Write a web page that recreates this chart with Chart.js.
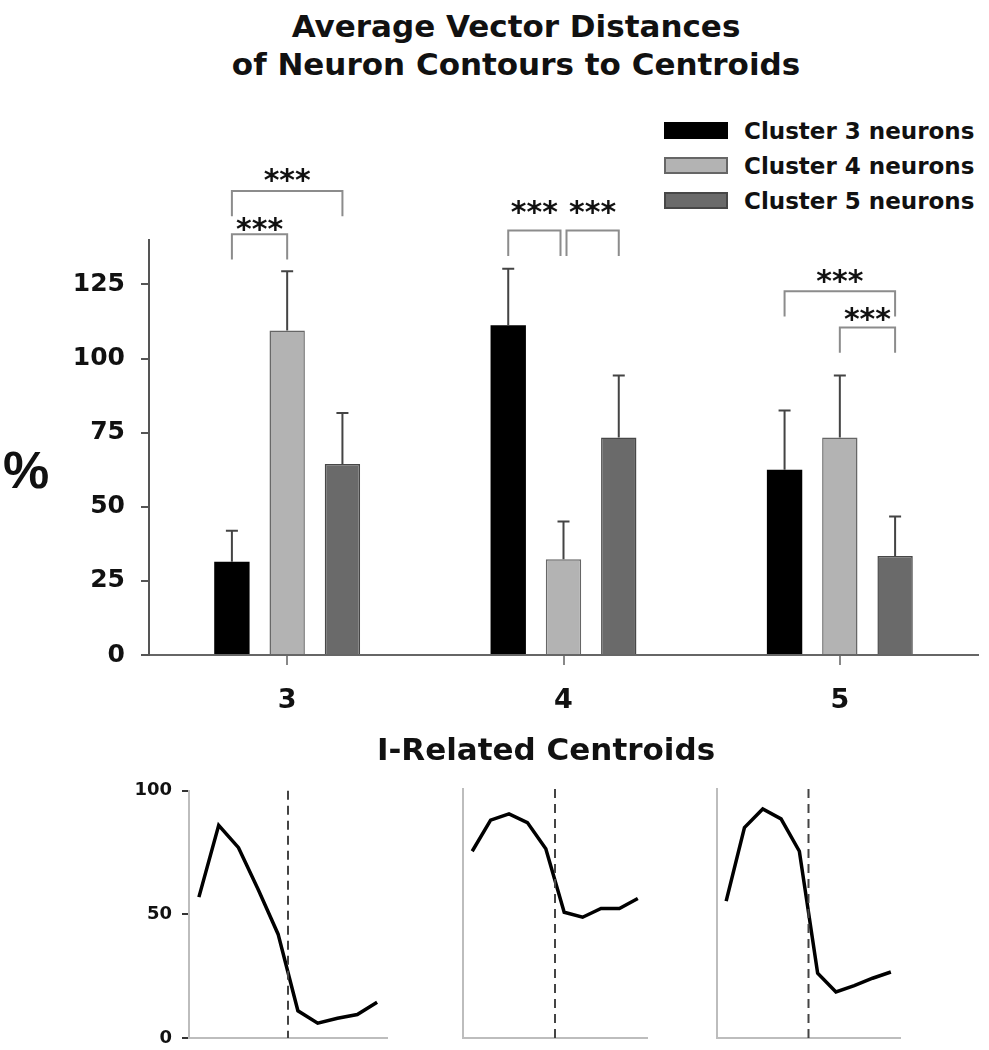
<!DOCTYPE html>
<html>
<head>
<meta charset="utf-8">
<script src="https://cdn.jsdelivr.net/npm/chart.js@4.4.1/dist/chart.umd.min.js"></script>
<style>
  body { margin: 0; background: #fff; font-family: 'DejaVu Sans', 'Liberation Sans', Arial, sans-serif; }
  #page { position: relative; width: 989px; height: 1050px; overflow: hidden; }
  .abs { position: absolute; }
  .title { left: 166px; width: 700px; top: 7px; text-align: center; font-weight: bold; font-size: 31px; line-height: 38px; color: #111; }
  .pct { left: 3px; top: 440px; font-family: 'Liberation Sans', Arial, sans-serif; font-weight: bold; font-size: 52px; line-height: 60px; color: #111; }
  .sub { left: 296px; width: 500px; top: 734px; text-align: center; font-weight: bold; font-size: 31px; line-height: 30px; color: #111; }
  #legend { left: 664px; top: 113px; }
  .row { display: flex; align-items: center; height: 35px; }
  .box { width: 60px; height: 13px; margin-right: 16px; }
  .lab { font-weight: bold; font-size: 23px; color: #111; white-space: nowrap; }
</style>
</head>
<body>
<div id="page">
  <div class="abs title">Average Vector Distances<br>of Neuron Contours to Centroids</div>
  <div id="legend" class="abs"></div>
  <div class="abs pct">%</div>
  <canvas id="bars" class="abs" width="989" height="640" style="left:0;top:100px"></canvas>
  <div class="abs sub">I-Related Centroids</div>
  <canvas id="cent3" class="abs" width="300" height="290" style="left:100px;top:770px"></canvas>
  <canvas id="cent4" class="abs" width="250" height="290" style="left:413px;top:770px"></canvas>
  <canvas id="cent5" class="abs" width="250" height="290" style="left:667px;top:770px"></canvas>
</div>
<script>
const categories = ['3', '4', '5'];
const seriesNames = ['Cluster 3 neurons', 'Cluster 4 neurons', 'Cluster 5 neurons'];
const cluster3 = [31.5, 111.2, 62.5];
const cluster4 = [109.5, 32.3, 73.4];
const cluster5 = [64.4, 73.4, 33.4];
const cluster3Err = [10.4, 19.1, 20.0];
const cluster4Err = [20.0, 12.7, 20.9];
const cluster5Err = [17.2, 20.9, 13.3];
const yTicks = [0, 25, 50, 75, 100, 125];

// significance brackets (category, bar a, bar b, heights in % units)
const sigCat = [0, 0, 1, 1, 2, 2];
const sigFrom = [0, 0, 0, 1, 0, 1];
const sigTo = [2, 1, 1, 2, 2, 2];
const sigTop = [156.5, 141.9, 143.2, 143.2, 122.7, 110.5];
const sigLeg = [148.0, 133.4, 134.6, 134.6, 114.2, 102.0];
const sigTextY = [161.8, 145.3, 150.9, 150.9, 127.8, 114.9];
const sigLabel = '***';

// centroid traces, 10 bins; event marker between bin 5 and 6
const bins = [0, 1, 2, 3, 4, 5, 6, 7, 8, 9];
const centroid3 = [57, 86, 77, 60, 42, 11, 6, 8, 9.5, 14.5];
const centroid4 = [75, 87.5, 90, 86.5, 76, 50.5, 48.5, 52, 52, 56];
const centroid5 = [55, 84.5, 92, 88, 75, 26, 18.5, 21, 24, 26.5];
const centroidTicks = [0, 50, 100];
const eventBin = 4.5;

const FONT = "'DejaVu Sans', 'Liberation Sans', Arial, sans-serif";
const fills = ['#000000', '#b3b3b3', '#6a6a6a'];
const edges = ['#000000', '#666666', '#474747'];
const errs = [cluster3Err, cluster4Err, cluster5Err];

// html legend
const legend = document.getElementById('legend');
seriesNames.forEach((name, i) => {
  const row = document.createElement('div');
  row.className = 'row';
  row.innerHTML = `<div class="box" style="background:${fills[i]};border:2px solid ${edges[i]}"></div><div class="lab">${name}</div>`;
  legend.appendChild(row);
});

const errorBars = {
  id: 'errorBars',
  afterDatasetsDraw(chart) {
    const ctx = chart.ctx, y = chart.scales.y;
    ctx.save();
    ctx.strokeStyle = '#444';
    ctx.lineWidth = 2;
    chart.data.datasets.forEach((ds, i) => {
      chart.getDatasetMeta(i).data.forEach((bar, j) => {
        const top = y.getPixelForValue(ds.data[j] + errs[i][j]);
        ctx.beginPath();
        ctx.moveTo(bar.x, bar.y);
        ctx.lineTo(bar.x, top);
        ctx.moveTo(bar.x - 6, top);
        ctx.lineTo(bar.x + 6, top);
        ctx.stroke();
      });
    });
    ctx.restore();
  }
};

const brackets = {
  id: 'brackets',
  afterDraw(chart) {
    const ctx = chart.ctx, y = chart.scales.y;
    ctx.save();
    ctx.strokeStyle = '#8c8c8c';
    ctx.lineWidth = 2;
    ctx.fillStyle = '#111';
    ctx.font = `bold 30px ${FONT}`;
    ctx.textAlign = 'center';
    sigCat.forEach((c, k) => {
      let x1 = chart.getDatasetMeta(sigFrom[k]).data[c].x;
      let x2 = chart.getDatasetMeta(sigTo[k]).data[c].x;
      // leave a small gap where two brackets meet on the same bar
      sigCat.forEach((c2, m) => {
        if (m !== k && c2 === c && sigTop[m] === sigTop[k]) {
          if (sigFrom[m] === sigTo[k]) x2 -= 3;
          if (sigTo[m] === sigFrom[k]) x1 += 3;
        }
      });
      const yt = y.getPixelForValue(sigTop[k]);
      const yl = y.getPixelForValue(sigLeg[k]);
      ctx.beginPath();
      ctx.moveTo(x1, yl);
      ctx.lineTo(x1, yt);
      ctx.lineTo(x2, yt);
      ctx.lineTo(x2, yl);
      ctx.stroke();
      const m = ctx.measureText(sigLabel);
      const yc = y.getPixelForValue(sigTextY[k]);
      ctx.fillText(sigLabel, (x1 + x2) / 2, yc + (m.actualBoundingBoxAscent - m.actualBoundingBoxDescent) / 2);
    });
    ctx.restore();
  }
};

new Chart(document.getElementById('bars'), {
  type: 'bar',
  data: {
    labels: categories,
    datasets: [cluster3, cluster4, cluster5].map((d, i) => ({
      label: seriesNames[i],
      data: d,
      backgroundColor: fills[i],
      borderColor: edges[i],
      borderWidth: i === 0 ? 0 : 1.5,
      categoryPercentage: 0.6,
      barPercentage: 0.64
    }))
  },
  options: {
    responsive: false,
    animation: false,
    layout: { padding: { top: 140, right: 11, left: 0, bottom: 0 } },
    plugins: { legend: { display: false }, tooltip: { enabled: false } },
    scales: {
      x: {
        ticks: { color: '#111', padding: 20, font: { family: FONT, weight: 'bold', size: 27 } },
        grid: { offset: false, drawOnChartArea: false, tickLength: 10, color: '#888', lineWidth: 2 },
        border: { color: '#666', width: 2 },
        afterFit: s => { s.height = 85; }
      },
      y: {
        min: 0,
        max: 140,
        afterBuildTicks: s => { s.ticks = yTicks.map(v => ({ value: v })); },
        ticks: { color: '#111', padding: 16, font: { family: FONT, weight: 'bold', size: 25 } },
        grid: { drawOnChartArea: false, tickLength: 8, color: '#555', lineWidth: 2 },
        border: { color: '#555', width: 2 },
        afterFit: s => { s.width = 149; }
      }
    }
  },
  plugins: [errorBars, brackets]
});

const eventLine = {
  id: 'eventLine',
  afterDatasetsDraw(chart) {
    const ctx = chart.ctx, a = chart.chartArea;
    const x = chart.scales.x.getPixelForValue(eventBin);
    ctx.save();
    ctx.strokeStyle = '#444';
    ctx.lineWidth = 2;
    ctx.setLineDash([9, 6]);
    ctx.beginPath();
    ctx.moveTo(x, a.top);
    ctx.lineTo(x, a.bottom);
    ctx.stroke();
    ctx.restore();
  }
};

function centroidChart(id, values, showLabels, yWidth, padRight) {
  new Chart(document.getElementById(id), {
    type: 'line',
    data: {
      datasets: [{
        data: values.map((v, i) => ({ x: bins[i], y: v })),
        borderColor: '#000',
        borderWidth: 3.5,
        pointRadius: 0,
        tension: 0
      }]
    },
    options: {
      responsive: false,
      animation: false,
      layout: { padding: { top: 19, right: padRight, left: 0, bottom: 0 } },
      plugins: { legend: { display: false }, tooltip: { enabled: false } },
      scales: {
        x: {
          type: 'linear', min: -0.5, max: 9.5,
          ticks: { display: false },
          grid: { drawOnChartArea: false, drawTicks: false },
          border: { color: '#bdbdbd', width: 2 },
          afterFit: s => { s.height = 22; }
        },
        y: {
          min: 0, max: 100,
          afterBuildTicks: s => { s.ticks = centroidTicks.map(v => ({ value: v })); },
          ticks: { display: showLabels, color: '#111', padding: 10, font: { family: FONT, weight: 'bold', size: 18 } },
          grid: { drawOnChartArea: false, drawTicks: showLabels, tickLength: 7, color: '#333', lineWidth: 2 },
          border: { color: '#bdbdbd', width: 2 },
          afterFit: s => { s.width = yWidth; }
        }
      }
    },
    plugins: [eventLine]
  });
}

centroidChart('cent3', centroid3, true, 89, 13);
centroidChart('cent4', centroid4, false, 50, 16);
centroidChart('cent5', centroid5, false, 50, 17);
</script>
</body>
</html>
